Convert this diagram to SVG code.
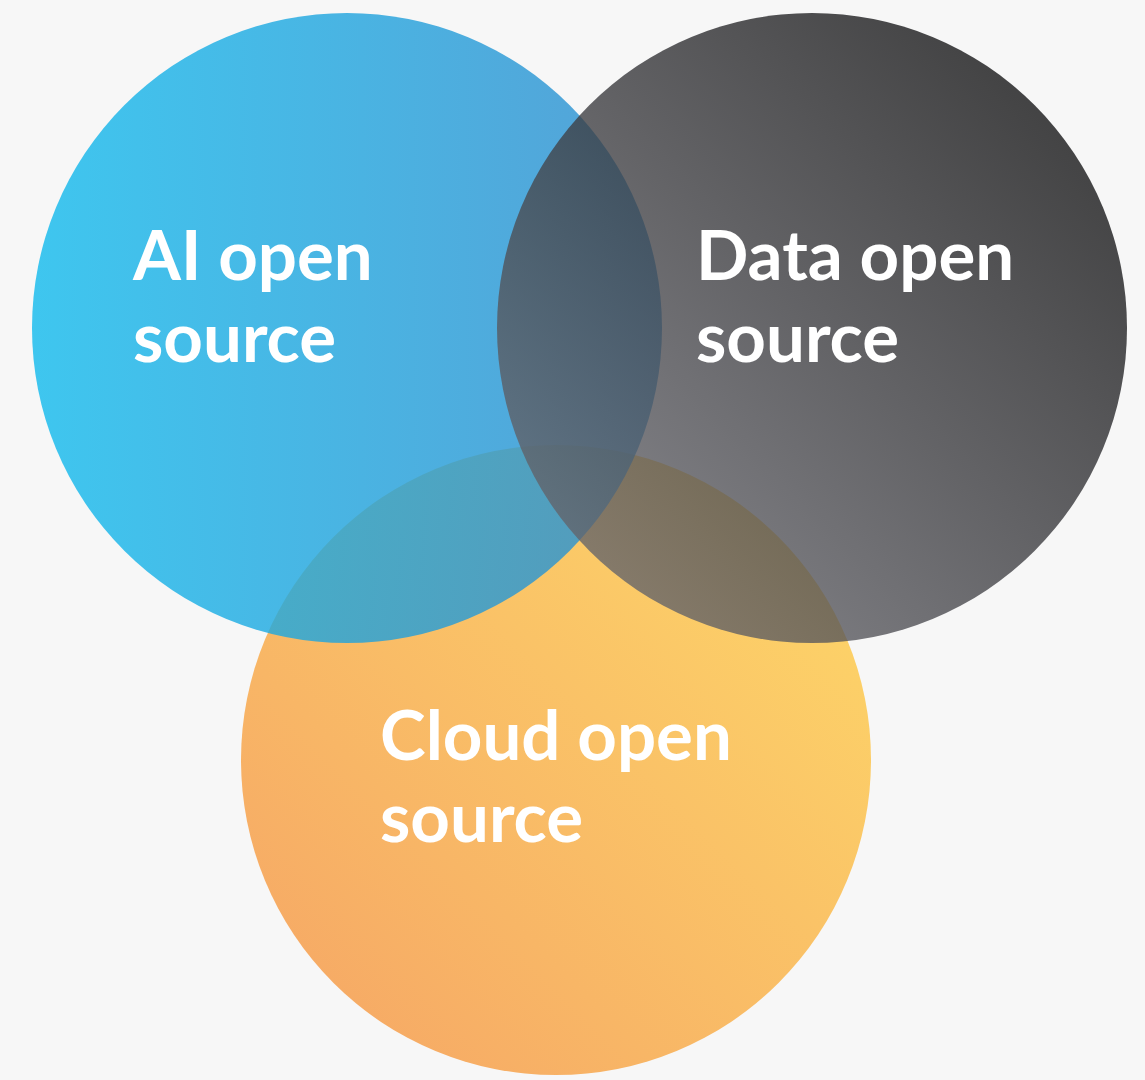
<svg xmlns="http://www.w3.org/2000/svg" width="1145" height="1080" viewBox="0 0 1145 1080">
<defs>
<linearGradient id="gBlue" x1="0" y1="0" x2="1" y2="0">
<stop offset="0" stop-color="#10baed"/>
<stop offset="1" stop-color="#2c8cce"/>
</linearGradient>
<linearGradient id="gDark" x1="1" y1="0" x2="0" y2="1">
<stop offset="0" stop-color="#000000"/>
<stop offset="1" stop-color="#74747c"/>
</linearGradient>
<linearGradient id="gOrange" x1="0" y1="1" x2="1" y2="0">
<stop offset="0" stop-color="#f5a160"/>
<stop offset="1" stop-color="#fed964"/>
</linearGradient>
<style>
.lbl{font-family:Lato,"Liberation Sans",sans-serif;font-weight:700;font-size:69px;fill:#ffffff}
</style>
</defs>
<rect width="1145" height="1080" fill="#f7f7f7"/>
<g id="cloud">
<circle cx="556" cy="760" r="315" fill="url(#gOrange)" fill-opacity="0.97"/>
</g>
<g id="ai">
<circle cx="347" cy="328" r="315" fill="url(#gBlue)" fill-opacity="0.8"/>
</g>
<g id="data">
<circle cx="812" cy="328" r="315" fill="url(#gDark)" fill-opacity="0.78"/>
</g>
<g id="connectors"/>
<g id="labels">
<text class="lbl" x="133" y="280">AI open</text>
<text class="lbl" x="133" y="362">source</text>
<text class="lbl" x="696" y="280">Data open</text>
<text class="lbl" x="696" y="362">source</text>
<text class="lbl" x="380" y="760">Cloud open</text>
<text class="lbl" x="380" y="842">source</text>
</g>
</svg>
